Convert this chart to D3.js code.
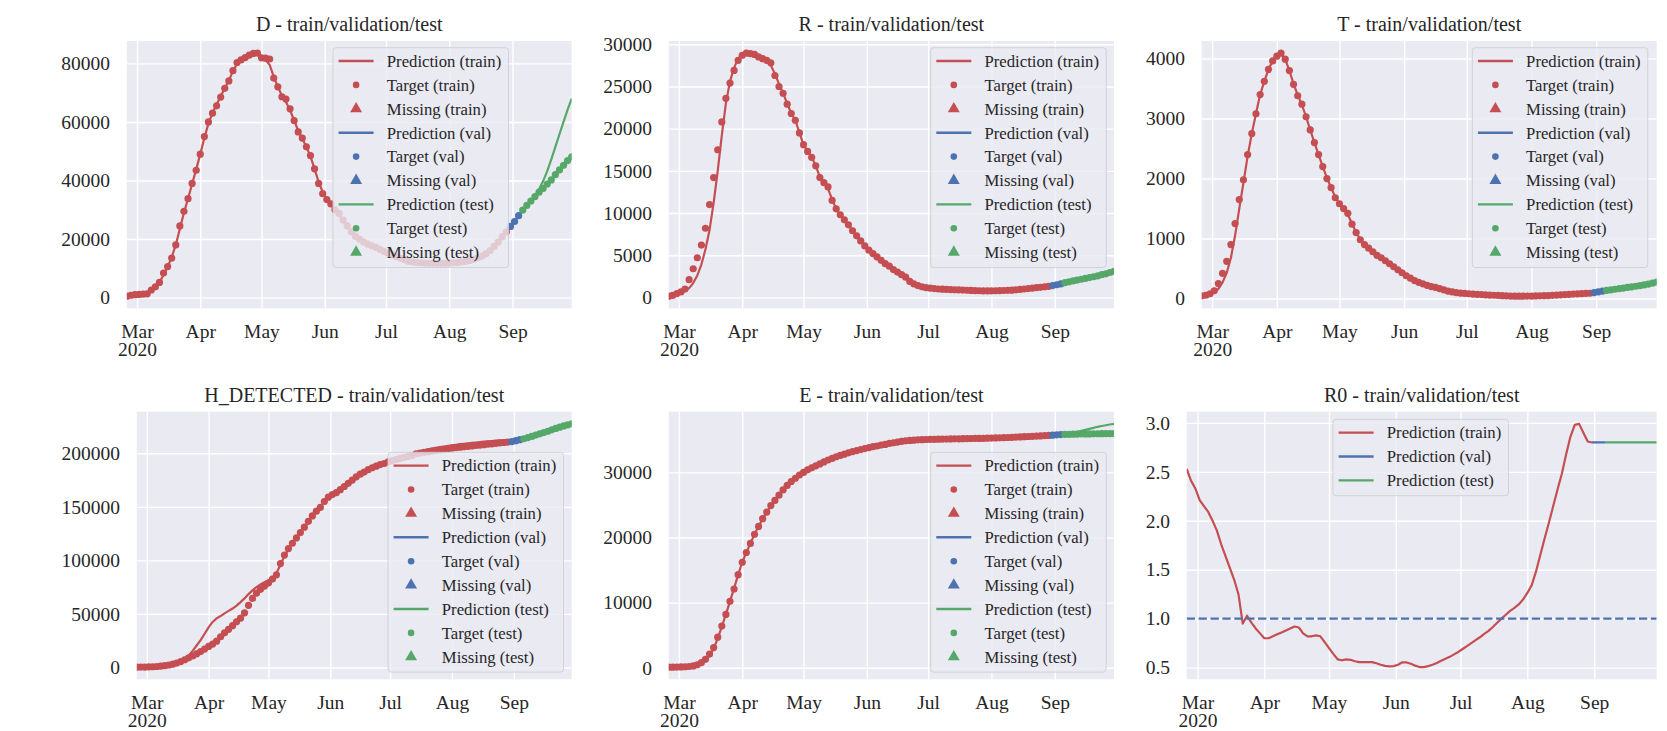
<!DOCTYPE html>
<html>
<head>
<meta charset="utf-8">
<script src="https://cdn.jsdelivr.net/npm/d3@7"></script>
<style>
  body { margin: 0; background: #fff; }
  text { font-family: "Liberation Serif", "Times New Roman", serif; fill: #262626; }
</style>
</head>
<body>
<svg id="chart"></svg>
<script>
const width = 1667;
const height = 731;

const svg = d3.select("#chart").attr("width", width).attr("height", height);

// seaborn "deep" colours
const red = "#C44E52", blue = "#4C72B0", green = "#55A868";

// dates: one value every 2 days from 25 Feb 2020 to 30 Sep 2020
const startDate = new Date(2020, 1, 25);
const endDate = new Date(2020, 8, 30);
const days = d3.range(0, 219, 2);
const trainEnd = 188; // first validation day
const valEnd = 194;   // first test day
const monthTicks = d3.timeMonth.range(new Date(2020, 2, 1), new Date(2020, 8, 2));

// ---- D ----
const dTarget = [
  500, 800, 1000, 1100, 1200, 1300, 2600, 3700, 5200, 8400,
  10600, 13500, 18000, 24500, 29500, 33800, 39000, 43500, 49000, 55000,
  60000, 63000, 65500, 68500, 71500, 74000, 77500, 80300, 81200, 82000,
  82800, 83400, 83500, 81900, 81800, 81500, 75000, 72000, 68600, 67800,
  64500, 60500, 56600, 54500, 51500, 48500, 44000, 39000, 35500, 33500,
  32000, 30000, 28800, 26500, 24500, 22500, 21000, 20000, 19000, 18300,
  17700, 17200, 16500, 15800, 15200, 14600, 14000, 13500, 13000, 12400,
  12200, 12000, 11900, 11800, 11700, 11700, 11700, 11700, 11700, 11800,
  11900, 12000, 12200, 12400, 12700, 13100, 13600, 14200, 15000, 16100,
  17500, 19000, 20800, 22500, 24300, 26000, 28000, 29900, 31500, 33000,
  34500, 36000, 37300, 38800, 40200, 42000, 43600, 45200, 46800, 48100
];
const dPred = [
  500, 700, 900, 1100, 1300, 1600, 2400, 3500, 5200, 7700,
  10500, 13800, 18000, 23500, 29000, 33800, 38800, 43800, 49000, 54500,
  59500, 63000, 66000, 68800, 71500, 74200, 77300, 79800, 81300, 82200,
  82900, 83300, 83300, 82300, 81200, 79500, 75500, 72000, 69000, 66800,
  64000, 60500, 57000, 54300, 51500, 48200, 44000, 39500, 36000, 33600,
  31800, 30000, 28500, 26500, 24600, 22700, 21100, 20000, 19000, 18300,
  17700, 17200, 16500, 15800, 15200, 14600, 14000, 13500, 13000, 12400,
  12200, 12000, 11900, 11800, 11700, 11700, 11700, 11700, 11700, 11800,
  11900, 12000, 12200, 12400, 12700, 13100, 13600, 14200, 15000, 16100,
  17500, 19000, 20800, 22500, 24300, 26000, 28000, 29900, 31400, 32900,
  34600, 37000, 39800, 43200, 47200, 51500, 55800, 60000, 64200, 68000
];
const dTicks = [0, 20000, 40000, 60000, 80000];

// ---- R ----
const rTarget = [
  150, 250, 450, 650, 1000, 2100, 3400, 4700, 6200, 8200,
  11000, 14200, 17500, 20800, 23600, 25400, 26900, 28100, 28700, 28950,
  28900, 28800, 28500, 28300, 28100, 27800, 26300, 25000, 24200, 22900,
  21800, 21000, 19500, 18100, 17300, 16600, 15600, 14200, 13600, 13100,
  11500, 10500, 9800, 9200, 8600, 7900, 7300, 6700, 6100, 5600,
  5200, 4800, 4400, 4000, 3700, 3300, 3000, 2700, 2400, 1900,
  1600, 1400, 1250, 1150, 1100, 1050, 1000, 980, 950, 930,
  910, 890, 870, 850, 830, 810, 790, 770, 770, 780,
  790, 800, 820, 840, 860, 900, 950, 1000, 1050, 1100,
  1150, 1200, 1250, 1300, 1400, 1500, 1600, 1750, 1850, 1950,
  2050, 2150, 2250, 2350, 2450, 2550, 2700, 2800, 2950, 3100
];
const rPred = [
  150, 220, 350, 500, 750, 1100, 1700, 2600, 3900, 5700,
  8000, 11200, 15000, 19200, 23000, 25600, 27200, 28300, 28800, 28950,
  28950, 28900, 28600, 28300, 28000, 27500, 26500, 25300, 24200, 23000,
  21800, 21000, 19500, 18100, 17300, 16600, 15600, 14300, 13600, 12900,
  11600, 10500, 9800, 9200, 8600, 7900, 7300, 6700, 6100, 5600,
  5200, 4800, 4400, 4000, 3700, 3300, 3000, 2700, 2350, 1950,
  1600, 1400, 1250, 1150, 1100, 1050, 1000, 980, 950, 930,
  910, 890, 870, 850, 830, 810, 790, 770, 770, 780,
  790, 800, 820, 840, 860, 900, 950, 1000, 1050, 1100,
  1150, 1200, 1250, 1300, 1400, 1500, 1600, 1750, 1850, 1950,
  2050, 2150, 2250, 2350, 2450, 2550, 2700, 2800, 2950, 3100
];
const rTicks = [0, 5000, 10000, 15000, 20000, 25000, 30000];

// ---- T ----
const tTarget = [
  45, 55, 80, 130, 250, 420, 620, 900, 1250, 1650,
  1980, 2400, 2750, 3080, 3400, 3620, 3820, 3960, 4040, 4090,
  3990, 3800, 3570, 3380, 3240, 3030, 2810, 2600, 2400, 2200,
  2000, 1850, 1680, 1580, 1500, 1420, 1240, 1100, 980, 900,
  840, 780, 720, 680, 630, 580, 530, 480, 430, 380,
  340, 300, 270, 245, 220, 200, 185, 165, 145, 125,
  110, 100, 90, 85, 80, 75, 70, 66, 62, 58,
  55, 52, 48, 45, 42, 40, 40, 40, 41, 42,
  44, 46, 48, 50, 54, 58, 62, 66, 70, 74,
  78, 82, 85, 88, 100, 112, 125, 135, 145, 155,
  165, 175, 185, 195, 205, 215, 228, 242, 258, 275
];
const tPred = [
  45, 50, 65, 100, 160, 270, 430, 680, 1050, 1500,
  1930, 2370, 2750, 3080, 3400, 3620, 3820, 3960, 4040, 4080,
  3990, 3800, 3580, 3390, 3230, 3030, 2810, 2600, 2400, 2200,
  2010, 1850, 1690, 1580, 1490, 1400, 1250, 1100, 985, 900,
  840, 780, 720, 675, 630, 580, 530, 480, 430, 385,
  340, 300, 270, 245, 220, 200, 185, 165, 145, 125,
  110, 100, 90, 85, 80, 75, 70, 66, 62, 58,
  55, 52, 48, 45, 42, 40, 40, 40, 41, 42,
  44, 46, 48, 50, 54, 58, 62, 66, 70, 74,
  78, 82, 85, 88, 100, 112, 125, 135, 145, 155,
  165, 175, 185, 195, 205, 215, 228, 242, 258, 275
];
const tTicks = [0, 1000, 2000, 3000, 4000];

// ---- H_DETECTED ----
const hTarget = [
  300, 350, 400, 500, 650, 900, 1200, 1700, 2300, 3100,
  4100, 5500, 7200, 9000, 10700, 12700, 14800, 17200, 19600, 21800,
  24500, 28700, 32300, 35600, 39000, 42600, 46000, 51000, 58000, 64500,
  69500, 73000, 76000, 78800, 82500, 86500, 97000, 105000, 111000, 116000,
  121000, 126000, 131000, 136500, 141500, 146000, 149500, 155000, 159000, 161500,
  163200, 166000, 169000, 172000, 175000, 178000, 180500, 182500, 184700, 186500,
  188000, 189500, 190500, 192000, 193200, 194200, 195200, 196100, 197000, 197800,
  199500, 200200, 200900, 201500, 202100, 202700, 203300, 203800, 204300, 204800,
  205300, 205700, 206100, 206500, 206900, 207300, 207700, 208100, 208500, 208900,
  209300, 209700, 210100, 210500, 211000, 211800, 212700, 213600, 214700, 215800,
  217000, 218200, 219400, 220600, 221900, 223200, 224400, 225600, 226600, 227500
];
const hPred = [
  300, 350, 400, 500, 650, 900, 1200, 1700, 2300, 3100,
  4100, 5600, 7500, 11000, 15500, 20500, 25500, 31500, 37500, 42500,
  45800, 48000, 50500, 52800, 55000, 57800, 61000, 64500, 68500, 72000,
  75000, 77500, 79500, 81500, 84000, 88000, 96000, 104000, 110500, 116000,
  121000, 126000, 131000, 136500, 141500, 146000, 149500, 155000, 159000, 161500,
  163200, 166000, 169000, 172000, 175000, 178000, 180500, 182500, 184700, 186500,
  188300, 190000, 191300, 193000, 194400, 195700, 196900, 198000, 199100, 200100,
  201000, 201900, 202800, 203600, 204300, 205000, 205700, 206300, 206900, 207500,
  208000, 208500, 208900, 209300, 209700, 210100, 210500, 210900, 211200, 211500,
  211800, 212000, 212100, 212000, 211600, 212000, 212700, 213600, 214700, 215800,
  217000, 218200, 219400, 220600, 221900, 223200, 224400, 225600, 226600, 227500
];
const hTicks = [0, 50000, 100000, 150000, 200000];

// ---- E ----
const eTarget = [
  100, 100, 110, 130, 160, 200, 280, 450, 800, 1300,
  2100, 3100, 4700, 6400, 8200, 10200, 12100, 14300, 16200, 17700,
  19100, 20500, 21700, 22900, 23900, 24900, 25700, 26500, 27300, 28000,
  28600, 29100, 29600, 30000, 30400, 30700, 31000, 31300, 31600, 31900,
  32150, 32400, 32600, 32800, 33000, 33200, 33350, 33500, 33650, 33800,
  33950, 34050, 34200, 34300, 34450, 34550, 34650, 34750, 34850, 34900,
  34950, 35000, 35020, 35050, 35070, 35080, 35100, 35110, 35120, 35140,
  35150, 35160, 35170, 35180, 35200, 35210, 35220, 35230, 35250, 35270,
  35290, 35310, 35330, 35360, 35390, 35420, 35450, 35480, 35510, 35540,
  35570, 35600, 35640, 35680, 35720, 35760, 35800, 35830, 35850, 35870,
  35880, 35890, 35900, 35910, 35920, 35930, 35940, 35950, 35960, 35970
];
const ePred = [
  100, 100, 105, 120, 140, 180, 250, 400, 700, 1150,
  1900, 2950, 4500, 6300, 8200, 10200, 12200, 14300, 16200, 17700,
  19100, 20500, 21700, 22900, 23900, 24900, 25700, 26500, 27300, 28000,
  28600, 29100, 29600, 30000, 30400, 30700, 31000, 31300, 31600, 31900,
  32150, 32400, 32600, 32800, 33000, 33200, 33350, 33500, 33650, 33800,
  33950, 34050, 34200, 34300, 34450, 34550, 34650, 34750, 34850, 34900,
  34950, 35000, 35020, 35050, 35070, 35080, 35100, 35110, 35120, 35140,
  35150, 35160, 35170, 35180, 35200, 35210, 35220, 35230, 35250, 35270,
  35290, 35310, 35330, 35360, 35390, 35420, 35450, 35480, 35510, 35540,
  35570, 35600, 35640, 35680, 35720, 35760, 35800, 35830, 35950, 36080,
  36220, 36370, 36520, 36680, 36840, 37000, 37120, 37240, 37350, 37450
];
const eTicks = [0, 10000, 20000, 30000];

// ---- R0 ----
const r0Pred = [
  2.53, 2.41, 2.33, 2.21, 2.15, 2.09, 2.00, 1.90, 1.76, 1.64,
  1.52, 1.40, 1.25, 0.95, 1.03, 0.96, 0.90, 0.85, 0.80, 0.80,
  0.82, 0.84, 0.86, 0.88, 0.90, 0.92, 0.91, 0.85, 0.82, 0.82,
  0.83, 0.82, 0.76, 0.70, 0.64, 0.585, 0.575, 0.585, 0.58, 0.565,
  0.556, 0.556, 0.556, 0.556, 0.545, 0.53, 0.518, 0.512, 0.515, 0.53,
  0.555, 0.553, 0.54, 0.52, 0.506, 0.505, 0.515, 0.53, 0.548, 0.57,
  0.59, 0.61, 0.635, 0.66, 0.69, 0.72, 0.75, 0.78, 0.81, 0.845,
  0.875, 0.915, 0.958, 1.00, 1.04, 1.08, 1.11, 1.145, 1.195, 1.263,
  1.34, 1.48, 1.65, 1.82, 1.98, 2.15, 2.32, 2.48, 2.68, 2.86,
  2.98, 2.99, 2.90, 2.81, 2.80, 2.80, 2.80, 2.80, 2.80, 2.80,
  2.80, 2.80, 2.80, 2.80, 2.80, 2.80, 2.80, 2.80, 2.80, 2.80
];
const r0Ticks = [0.5, 1.0, 1.5, 2.0, 2.5, 3.0];
const r0Threshold = 1.0;

// layout
const panels = [
  { title: "D - train/validation/test", target: dTarget, pred: dPred, ticks: dTicks,
    box: [126.8, 41, 571.7, 308.3], legendAt: [333, 47.7] },
  { title: "R - train/validation/test", target: rTarget, pred: rPred, ticks: rTicks,
    box: [668.7, 41, 1114, 308.3], legendAt: [930.7, 47.7] },
  { title: "T - train/validation/test", target: tTarget, pred: tPred, ticks: tTicks,
    box: [1201.7, 41, 1656.7, 308.3], legendAt: [1472.3, 47.7] },
  { title: "H_DETECTED - train/validation/test", target: hTarget, pred: hPred, ticks: hTicks,
    box: [136.8, 411.7, 571.7, 679.3], legendAt: [388, 452.3] },
  { title: "E - train/validation/test", target: eTarget, pred: ePred, ticks: eTicks,
    box: [668.7, 411.7, 1114, 679.3], legendAt: [930.7, 452.3] },
  { title: "R0 - train/validation/test", target: null, pred: r0Pred, ticks: r0Ticks,
    box: [1186.7, 411.7, 1656.7, 679.3], legendAt: [1333, 419.3], threshold: r0Threshold }
];

const phases = [
  { name: "train", color: red, from: 0, to: trainEnd },
  { name: "val", color: blue, from: trainEnd, to: valEnd },
  { name: "test", color: green, from: valEnd, to: 218 }
];

const dateOf = (d) => d3.timeDay.offset(startDate, d);

panels.forEach((p, pi) => {
  const [x0, y0, x1, y1] = p.box;
  const w = x1 - x0, h = y1 - y0;
  const g = svg.append("g").attr("transform", `translate(${x0},${y0})`);

  const x = d3.scaleTime().domain([startDate, endDate]).range([0, w]);
  const all = p.target ? p.target.concat(p.pred) : p.pred;
  const [lo, hi] = d3.extent(all);
  const pad = (hi - lo) * 0.05;
  const y = d3.scaleLinear().domain([lo - pad, hi + pad]).range([h, 0]);

  g.append("rect").attr("width", w).attr("height", h).attr("fill", "#EAEAF2");

  // axes + grid
  const xAxis = d3.axisBottom(x)
    .tickValues(monthTicks)
    .tickSize(-h)
    .tickPadding(15.5)
    .tickFormat(d3.timeFormat("%b"));
  const xg = g.append("g").attr("transform", `translate(0,${h})`).call(xAxis);
  xg.selectAll("text").filter((d, i) => i === 0)
    .append("tspan").attr("x", 0).attr("dy", "0.93em").text("2020");

  const yAxis = d3.axisLeft(y)
    .tickValues(p.ticks)
    .tickSize(-w)
    .tickPadding(16.7)
    .tickFormat(p.target ? d3.format("d") : d3.format(".1f"));
  const yg = g.append("g").call(yAxis);

  [xg, yg].forEach((ax) => {
    ax.select(".domain").remove();
    ax.selectAll(".tick line").attr("stroke", "#fff").attr("stroke-width", 1.4);
    ax.selectAll(".tick text").style("font-size", "19.5px").attr("fill", "#262626")
      .style("font-family", "'Liberation Serif', 'Times New Roman', serif");
  });

  // title
  g.append("text")
    .attr("x", w / 2).attr("y", -10)
    .attr("text-anchor", "middle")
    .style("font-size", "20px")
    .text(p.title);

  // clip
  const clipId = "clip" + pi;
  g.append("clipPath").attr("id", clipId)
    .append("rect").attr("width", w).attr("height", h);
  const plot = g.append("g").attr("clip-path", `url(#${clipId})`);

  const line = d3.line()
    .x((i) => x(dateOf(days[i])))
    .y((i) => y(p.pred[i]));

  phases.forEach((ph) => {
    const lineIdx = days.map((d, i) => i).filter((i) => days[i] >= ph.from && days[i] <= ph.to);
    plot.append("path")
      .attr("d", line(lineIdx))
      .attr("fill", "none")
      .attr("stroke", ph.color)
      .attr("stroke-width", 2.2)
      .attr("stroke-linejoin", "round");

    if (p.target) {
      const dotIdx = days.map((d, i) => i).filter((i) =>
        days[i] >= ph.from && (days[i] < ph.to || ph.name === "test"));
      plot.selectAll(null)
        .data(dotIdx)
        .join("circle")
        .attr("cx", (i) => x(dateOf(days[i])))
        .attr("cy", (i) => y(p.target[i]))
        .attr("r", 3.6)
        .attr("fill", ph.color);
    }
  });

  if (p.threshold !== undefined) {
    plot.append("line")
      .attr("x1", 0).attr("x2", w)
      .attr("y1", y(p.threshold)).attr("y2", y(p.threshold))
      .attr("stroke", blue)
      .attr("stroke-width", 2.2)
      .attr("stroke-dasharray", "8.3,3.6");
  }

  // legend
  const items = [];
  phases.forEach((ph) => {
    items.push({ label: `Prediction (${ph.name})`, kind: "line", color: ph.color });
    if (p.target) {
      items.push({ label: `Target (${ph.name})`, kind: "dot", color: ph.color });
      items.push({ label: `Missing (${ph.name})`, kind: "tri", color: ph.color });
    }
  });
  drawLegend(items, p.legendAt[0], p.legendAt[1]);
});

function drawLegend(items, lx, ly) {
  const rowH = 23.9;
  const boxW = 175.5;
  const boxH = 13.3 + (items.length - 1) * rowH + 15.3;
  const lg = svg.append("g").attr("transform", `translate(${lx},${ly})`);
  lg.append("rect")
    .attr("width", boxW).attr("height", boxH)
    .attr("rx", 3).attr("ry", 3)
    .attr("fill", "#EAEAF2").attr("fill-opacity", 0.8)
    .attr("stroke", "#cccccc").attr("stroke-opacity", 0.8).attr("stroke-width", 1);

  items.forEach((it, i) => {
    const cy = 13.3 + i * rowH;
    if (it.kind === "line") {
      lg.append("line")
        .attr("x1", 5.6).attr("x2", 40.6)
        .attr("y1", cy).attr("y2", cy)
        .attr("stroke", it.color).attr("stroke-width", 2.4);
    } else if (it.kind === "dot") {
      lg.append("circle").attr("cx", 23.1).attr("cy", cy).attr("r", 3.3).attr("fill", it.color);
    } else {
      lg.append("path")
        .attr("d", d3.symbol(d3.symbolTriangle, 62)())
        .attr("transform", `translate(23.1,${cy})`)
        .attr("fill", it.color);
    }
    lg.append("text")
      .attr("x", 53.8).attr("y", cy).attr("dy", "0.35em")
      .style("font-size", "16.7px")
      .text(it.label);
  });
}
</script>
</body>
</html>
